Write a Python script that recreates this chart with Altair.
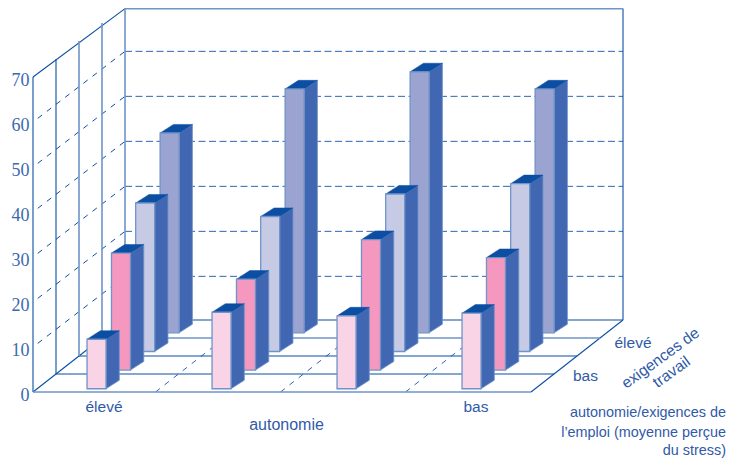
import altair as alt
import pandas as pd

# ---------- chart values ----------
autonomie = ["élevé", "moyen-élevé", "moyen-bas", "bas"]
exigences = ["bas", "moyen-bas", "moyen-élevé", "élevé"]
row_bas = [11.0, 17.0, 16.2, 16.8]
row_moyen_bas = [26.0, 20.2, 29.0, 25.0]
row_moyen_eleve = [33.0, 30.0, 35.0, 37.3]
row_eleve = [44.4, 54.2, 58.0, 54.2]
rows = [row_bas, row_moyen_bas, row_moyen_eleve, row_eleve]
row_colors = ["#F9D3E6", "#F598C0", "#C6CAE5", "#9BA3D0"]
y_ticks = [0, 10, 20, 30, 40, 50, 60, 70]
grid_values = [10, 20, 30, 40, 50, 60]

# ---------- layout of the oblique projection (pixels) ----------
PX = 4.5            # pixels per value unit
W, H = 694, 452     # plot area
Y0_FROM_TOP = 384   # baseline of the floor below plot top
TOP = 85.2          # highest value-unit the page can show
FLOOR_DX, FLOOR_DY = 23, 4          # one floor division
GRID_RISE = 15.7    # rise of a wall gridline across the left wall
FLOOR_W = 498
CAT_STEP = 125
BAR_X0, BAR_DX = 49.8, 23.5
ROW_Z = [0.18, 1.22, 2.25, 3.29]
BAR_W = 19
SIDE_DX, SIDE_DY = 13.3, 1.9
TEXT = "#2F5AA8"
DARK = "#0B4EA2"
LIGHT = "#6F94C8"
SIDE = "#4267B2"

xs = alt.Scale(domain=[0, W], nice=False, zero=False)
ys = alt.Scale(domain=[-(H - Y0_FROM_TOP) / PX, Y0_FROM_TOP / PX], nice=False, zero=False)
X = lambda f="x": alt.X(f"{f}:Q", scale=xs, axis=None)
Y = lambda f="y": alt.Y(f"{f}:Q", scale=ys, axis=None)


def uy(page_y):
    return (392 - page_y) / PX


def ux(page_x):
    return page_x - 33


def rule_layer(df, color, width=1.0, dash=None, offset=0):
    kw = dict(color=color, strokeWidth=width)
    if dash:
        kw.update(strokeDash=dash, strokeDashOffset=offset)
    return alt.Chart(df).mark_rule(**kw).encode(x=X(), x2="x2:Q", y=Y(), y2="y2:Q")


# ---------- frame and grid ----------
def wall_x(z):
    return FLOOR_DX * z


def wall_y(v, z):
    return min(v + FLOOR_DY * z, TOP)


left_grid = pd.DataFrame([
    dict(x=0, y=v, x2=wall_x(4), y2=v + GRID_RISE) for v in grid_values])
back_grid = pd.DataFrame([
    dict(x=wall_x(4), y=v + GRID_RISE, x2=wall_x(4) + FLOOR_W, y2=v + GRID_RISE) for v in grid_values])
floor_dash = pd.DataFrame([
    dict(x=122.5 + CAT_STEP * i, y=0, x2=122.5 + CAT_STEP * i + wall_x(4), y2=wall_y(0, 4))
    for i in range(3)])
dark_lines = pd.DataFrame(
    [dict(x=0, y=0, x2=0, y2=70),
     dict(x=0, y=70, x2=wall_x(4), y2=TOP),
     dict(x=0, y=0, x2=wall_x(4), y2=wall_y(0, 4)),
     dict(x=FLOOR_W, y=0, x2=FLOOR_W + wall_x(4), y2=wall_y(0, 4)),
     dict(x=wall_x(1), y=wall_y(0, 1), x2=wall_x(1), y2=wall_y(70, 1)),
     dict(x=wall_x(4) + FLOOR_W, y=wall_y(0, 4), x2=wall_x(4) + FLOOR_W, y2=TOP),
     dict(x=wall_x(4), y=wall_y(0, 4), x2=wall_x(4) + FLOOR_W, y2=wall_y(0, 4)),
     dict(x=wall_x(2), y=wall_y(0, 2), x2=wall_x(2) + FLOOR_W, y2=wall_y(0, 2)),
     dict(x=wall_x(1), y=wall_y(0, 1), x2=wall_x(1) + FLOOR_W, y2=wall_y(0, 1))])
light_lines = pd.DataFrame(
    [dict(x=0, y=0, x2=FLOOR_W, y2=0),
     dict(x=wall_x(3), y=wall_y(0, 3), x2=wall_x(3) + FLOOR_W, y2=wall_y(0, 3)),
     dict(x=wall_x(2), y=wall_y(0, 2), x2=wall_x(2), y2=wall_y(70, 2)),
     dict(x=wall_x(3), y=wall_y(0, 3), x2=wall_x(3), y2=wall_y(70, 3)),
     dict(x=wall_x(4), y=wall_y(0, 4), x2=wall_x(4), y2=TOP),
     dict(x=wall_x(4), y=TOP, x2=wall_x(4) + FLOOR_W, y2=TOP)])

axis_layer = alt.Chart(pd.DataFrame({"x": [0], "y": [0]})).mark_point(opacity=0).encode(
    x=X(),
    y=alt.Y("y:Q", scale=ys, title=None, axis=alt.Axis(
        values=y_ticks, domain=False, ticks=False, grid=False, labelPadding=4,
        labelFont="Liberation Serif", labelFontSize=18, labelColor="#3A6AAE",
        labelBaseline="middle", labelOffset=3, labelOverlap=False, labelFlush=False)),
)

layers = [
    axis_layer,
    rule_layer(left_grid, DARK, 1.0, [5.5, 6], 5.5),
    rule_layer(back_grid, "#2E66B0", 1.0, [7, 3.5]),
    rule_layer(floor_dash, "#2E66B0", 1.0, [5.5, 6]),
    rule_layer(dark_lines, DARK, 1.1),
    rule_layer(light_lines, LIGHT, 1.6),
]

# ---------- bars, back row first ----------
for r in reversed(range(4)):
    z = ROW_Z[r]
    col = row_colors[r]
    front, side, top = [], [], []
    for c, v in enumerate(rows[r]):
        x0 = BAR_X0 + CAT_STEP * c + BAR_DX * z
        x1 = x0 + BAR_W
        base = FLOOR_DY * z
        tp = base + v
        name = autonomie[c]
        front.append(dict(x=x0, x2=x1, y=base, y2=tp))
        side += [dict(b=name, x=x1, y=base, y2=tp),
                 dict(b=name, x=x1 + SIDE_DX, y=base + SIDE_DY, y2=tp + SIDE_DY)]
        top += [dict(b=name, x=x0, y=tp, y2=tp),
                dict(b=name, x=x0 + SIDE_DX, y=tp, y2=tp + SIDE_DY),
                dict(b=name, x=x1, y=tp, y2=tp + SIDE_DY),
                dict(b=name, x=x1 + SIDE_DX, y=tp + SIDE_DY, y2=tp + SIDE_DY)]
    layers.append(alt.Chart(pd.DataFrame(side)).mark_area(
        color=SIDE, stroke=LIGHT, strokeWidth=0.8).encode(
        x=X(), y=alt.Y("y:Q", scale=ys, axis=None, stack=None), y2="y2:Q", detail="b:N"))
    layers.append(alt.Chart(pd.DataFrame(top)).mark_area(
        color=DARK, stroke=DARK, strokeWidth=0.5).encode(
        x=X(), y=alt.Y("y:Q", scale=ys, axis=None, stack=None), y2="y2:Q", detail="b:N"))
    layers.append(alt.Chart(pd.DataFrame(front)).mark_rect(
        color=col, stroke=LIGHT, strokeWidth=1.3).encode(
        x=X(), x2="x2:Q", y=Y(), y2="y2:Q"))

# ---------- labels ----------
labels = ["élevé", "bas", "autonomie", "bas", "élevé",
          "autonomie/exigences de", "l’emploi (moyenne perçue", "du stress)"]
label_x = [104, 476, 286.5, 585.5, 633, 726, 726, 726]
label_y = [411.7, 411.7, 430, 380.7, 348, 416.7, 436.7, 455]
label_size = [15.5, 15.5, 16, 15.5, 15.5, 14.4, 14.4, 14.4]
label_align = ["center", "center", "center", "center", "center", "right", "right", "right"]
for t, px, py, s, a in zip(labels, label_x, label_y, label_size, label_align):
    layers.append(alt.Chart(pd.DataFrame({"x": [ux(px)], "y": [uy(py)], "t": [t]})).mark_text(
        font="Liberation Sans", fontSize=s, color=TEXT, align=a, baseline="alphabetic").encode(
        x=X(), y=Y(), text="t:N"))

rot_labels = ["exigences de", "travail"]
rot_x = [660.5, 671.5]
rot_y = [358, 372]
for t, px, py in zip(rot_labels, rot_x, rot_y):
    layers.append(alt.Chart(pd.DataFrame({"x": [ux(px)], "y": [uy(py)], "t": [t]})).mark_text(
        font="Liberation Sans", fontSize=15.6, color=TEXT, align="center", baseline="middle", angle=324).encode(
        x=X(), y=Y(), text="t:N"))

chart = alt.layer(*layers).resolve_axis(x="independent", y="independent").properties(
    width=W, height=H,
    padding={"left": 25, "top": 0, "right": 0, "bottom": 0},
    autosize=alt.AutoSizeParams(type="none"),
    background="#ffffff",
).configure_view(stroke=None)

chart.save("out.html", embed_options={"renderer": "svg", "actions": False})
